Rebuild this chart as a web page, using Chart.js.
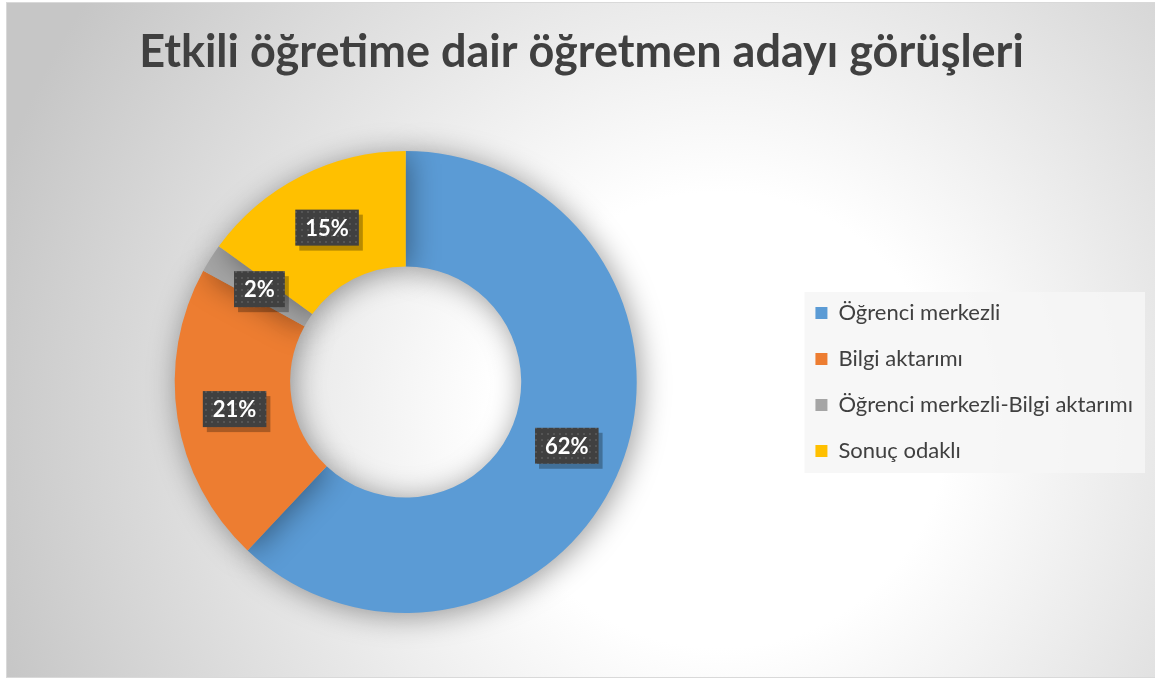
<!DOCTYPE html>
<html>
<head>
<meta charset="utf-8">
<script src="https://cdn.jsdelivr.net/npm/chart.js@4.4.1/dist/chart.umd.min.js"></script>
<style>
  html, body { margin: 0; padding: 0; background: #ffffff; }
  #wrap { width: 1155px; height: 680px; position: relative; }
</style>
</head>
<body>
<div id="wrap"><canvas id="myChart" width="1155" height="680"></canvas></div>
<script>
var labels = ['Öğrenci merkezli', 'Bilgi aktarımı', 'Öğrenci merkezli-Bilgi aktarımı', 'Sonuç odaklı'];
var values = [62, 21, 2, 15];
var colors = ['#5b9bd5', '#ed7d31', '#a5a5a5', '#ffc000'];
var titleText = 'Etkili öğretime dair öğretmen adayı görüşleri';

// background + legend panel
var backdrop = {
    id: 'backdrop',
    beforeDraw: function(chart) {
        var ctx = chart.ctx;
        ctx.save();
        ctx.fillStyle = '#ffffff';
        ctx.fillRect(0, 0, chart.width, chart.height);
        var g = ctx.createRadialGradient(720, 420, 0, 720, 420, 760);
        g.addColorStop(0, '#ffffff');
        g.addColorStop(0.3, '#ffffff');
        g.addColorStop(1, '#c6c6c6');
        ctx.fillStyle = g;
        ctx.fillRect(6, 2, chart.width - 6, 675);
        ctx.strokeStyle = '#d9d9d9';
        ctx.lineWidth = 1;
        ctx.strokeRect(6.5, 2.5, chart.width - 6, 675);

        var lg = chart.legend;
        if (lg && lg.legendHitBoxes.length) {
            var hb = lg.legendHitBoxes;
            var x0 = hb[0].left - 11;
            var y0 = hb[0].top - 10;
            var x1 = 0, y1 = 0;
            hb.forEach(function(h) {
                x1 = Math.max(x1, h.left + h.width);
                y1 = Math.max(y1, h.top + h.height);
            });
            ctx.fillStyle = 'rgba(246,246,246,0.85)';
            ctx.fillRect(x0, y0, x1 + 12 - x0, y1 + 11 - y0);
        }
        ctx.restore();
    }
};

// soft shadow behind the ring
var ringShadow = {
    id: 'ringShadow',
    beforeDatasetsDraw: function(chart) {
        var ctx = chart.ctx;
        ctx.save();
        ctx.shadowColor = 'rgba(0,0,0,0.4)';
        ctx.shadowBlur = 30;
        ctx.shadowOffsetX = 3;
        ctx.shadowOffsetY = 3;
    },
    afterDatasetsDraw: function(chart) {
        chart.ctx.restore();
    }
};

var dotPattern = null;
function getPattern(ctx) {
    if (dotPattern) return dotPattern;
    var c = document.createElement('canvas');
    c.width = 6; c.height = 6;
    var p = c.getContext('2d');
    p.fillStyle = '#404040';
    p.fillRect(0, 0, 6, 6);
    p.fillStyle = '#555555';
    p.fillRect(1, 1, 2, 2);
    dotPattern = ctx.createPattern(c, 'repeat');
    return dotPattern;
}

// percentage labels in dark boxes
var pctLabels = {
    id: 'pctLabels',
    afterDatasetsDraw: function(chart) {
        var ctx = chart.ctx;
        var meta = chart.getDatasetMeta(0);
        var total = values.reduce(function(a, b) { return a + b; }, 0);
        ctx.save();
        ctx.font = 'bold 22px Lato';
        ctx.textAlign = 'center';
        ctx.textBaseline = 'middle';
        meta.data.forEach(function(arc, i) {
            var pos = arc.tooltipPosition();
            var txt = Math.round(values[i] / total * 100) + '%';
            var w = ctx.measureText(txt).width + 20;
            var h = 36;
            var x = pos.x - w / 2, y = pos.y - h / 2;
            ctx.fillStyle = 'rgba(0,0,0,0.28)';
            ctx.fillRect(x + 4, y + 5, w, h);
            ctx.fillStyle = getPattern(ctx);
            ctx.fillRect(x, y, w, h);
            ctx.fillStyle = '#ffffff';
            ctx.fillText(txt, pos.x, pos.y + 1);
        });
        ctx.restore();
    }
};

var ctx = document.getElementById('myChart').getContext('2d');
var myChart = new Chart(ctx, {
    type: 'doughnut',
    data: {
        labels: labels,
        datasets: [{
            data: values,
            backgroundColor: colors,
            borderWidth: 0
        }]
    },
    options: {
        responsive: false,
        animation: false,
        cutout: '50%',
        layout: { padding: { top: 0, bottom: 67, left: 20, right: 12 } },
        plugins: {
            title: {
                display: true,
                text: titleText,
                color: '#404040',
                font: { family: 'Lato', size: 45, weight: 'bold' },
                padding: { top: 25, bottom: 72 }
            },
            legend: {
                position: 'right',
                fullSize: false,
                labels: {
                    color: '#404040',
                    font: { family: 'Lato', size: 22 },
                    boxWidth: 12,
                    boxHeight: 12,
                    padding: 24
                }
            },
            tooltip: { enabled: false }
        }
    },
    plugins: [backdrop, ringShadow, pctLabels]
});
</script>
</body>
</html>
